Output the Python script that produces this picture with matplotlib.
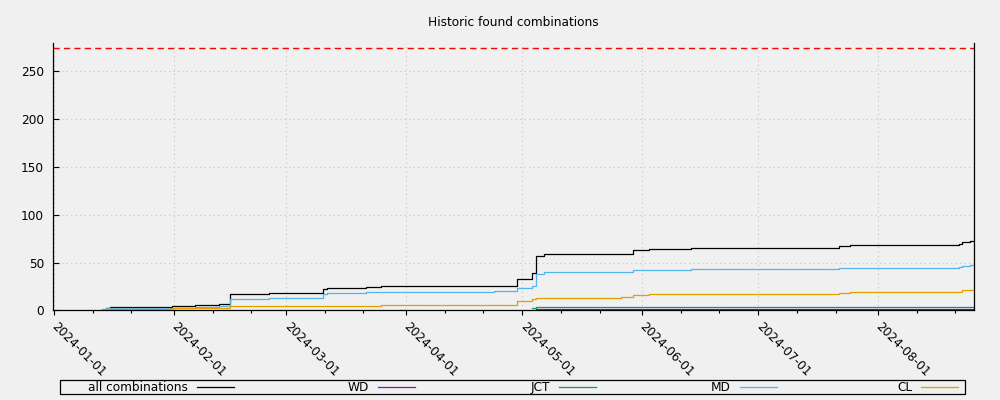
import pandas as pd
import matplotlib
matplotlib.use("Agg")
import matplotlib.pyplot as plt
import matplotlib.dates as mdates
from matplotlib.patches import Rectangle

# --------- data ---------
all_dates = ["2024-01-14 10:00", "2024-01-15 12:00", "2024-01-31 12:00", "2024-02-06 10:00",
             "2024-02-12 14:00", "2024-02-15 12:00", "2024-02-25 14:00", "2024-03-10 14:00",
             "2024-03-11 14:00", "2024-03-21 17:00", "2024-03-25 14:00", "2024-04-23 19:00",
             "2024-04-29 17:00", "2024-05-03 14:00", "2024-05-04 17:00", "2024-05-06 17:00",
             "2024-05-29 17:00", "2024-06-02 22:00", "2024-06-13 14:00", "2024-07-21 19:00",
             "2024-07-24 19:00", "2024-08-22 00:00", "2024-08-22 19:00", "2024-08-24 19:00",
             "2024-08-25 19:00"]
all_vals = [3, 4, 5, 6, 7, 17, 18, 22, 23, 24, 25, 26, 33, 39, 57, 59, 63, 64, 65, 67, 68, 69, 72, 73, 73]

wd_dates = ["2024-05-04 17:00", "2024-08-25 19:00"]
wd_vals = [1, 1]

jct_dates = ["2024-05-03 14:00", "2024-05-04 17:00", "2024-08-25 19:00"]
jct_vals = [2, 4, 4]

md_dates = ["2024-01-13 07:00", "2024-01-14 10:00", "2024-01-15 12:00", "2024-02-06 10:00",
            "2024-02-12 14:00", "2024-02-15 12:00", "2024-02-25 14:00", "2024-03-10 14:00",
            "2024-03-11 14:00", "2024-03-21 17:00", "2024-04-23 19:00", "2024-04-29 17:00",
            "2024-05-03 14:00", "2024-05-04 17:00", "2024-05-06 17:00", "2024-05-29 17:00",
            "2024-06-13 14:00", "2024-07-21 19:00", "2024-08-22 00:00", "2024-08-22 19:00",
            "2024-08-24 19:00", "2024-08-25 19:00"]
md_vals = [1, 2, 3, 4, 5, 12, 13, 17, 18, 19, 20, 23, 26, 38, 40, 42, 43, 44, 45, 46, 47, 47]

cl_dates = ["2024-01-13 07:00", "2024-01-31 12:00", "2024-02-15 12:00", "2024-03-25 14:00",
            "2024-04-29 17:00", "2024-05-03 14:00", "2024-05-04 17:00", "2024-05-26 14:00",
            "2024-05-29 17:00", "2024-06-02 22:00", "2024-07-21 19:00", "2024-07-24 19:00",
            "2024-08-22 19:00", "2024-08-25 19:00"]
cl_vals = [1, 2, 5, 6, 10, 12, 13, 14, 16, 17, 18, 19, 21, 21]

limit_val = 274

series = [
    ("all combinations", all_dates, all_vals, "#000000"),
    ("WD", wd_dates, wd_vals, "#9400d3"),
    ("JCT", jct_dates, jct_vals, "#009e73"),
    ("MD", md_dates, md_vals, "#56b4e9"),
    ("CL", cl_dates, cl_vals, "#e69f00"),
]

FS = 8.7
BG = "#f0f0f0"

fig = plt.figure(figsize=(10, 4), dpi=100, facecolor=BG)
ax = fig.add_axes([0.053, 0.224, 0.921, 0.6685], facecolor=BG)

lines = []
for label, d, v, c in series:
    ln, = ax.step(pd.to_datetime(d), v, where="post", color=c, lw=0.9, label=label)
    lines.append(ln)

ax.axhline(limit_val, color="red", lw=1.0, linestyle=(0, (4.5, 3)))

ax.set_xlim(pd.Timestamp("2023-12-31 18:00"), pd.Timestamp("2024-08-25 19:00"))
ax.set_ylim(0, 279.5)

ax.xaxis.set_major_locator(mdates.MonthLocator())
ax.xaxis.set_minor_locator(mdates.DayLocator(bymonthday=[11, 21]))
ax.xaxis.set_major_formatter(mdates.DateFormatter("%Y-%m-%d"))
ax.set_yticks(range(0, 251, 50))

ax.tick_params(axis="y", direction="in", length=4, width=0.8, pad=6.5, labelsize=FS)
ax.tick_params(axis="x", which="major", direction="out", length=3.5, width=0.8, pad=6.5, labelsize=FS)
ax.tick_params(axis="x", which="minor", direction="out", length=1.8, width=0.8)
for lab in ax.get_xticklabels():
    lab.set_rotation(-45)
    lab.set_ha("left")
    lab.set_va("center")
    lab.set_rotation_mode("anchor")

ax.grid(True, which="major", color="#c4c4c4", lw=0.8, linestyle=(0, (1, 3)))
ax.spines["top"].set_visible(False)
for s in ["left", "bottom", "right"]:
    ax.spines[s].set_linewidth(0.9)

fig.text(0.5135, 0.945, "Historic found combinations", ha="center", va="center", fontsize=FS)

# gnuplot-like key: one box, equal columns, text right-justified then the sample
y_key = 1 - 387.5 / 400
for i, ln in enumerate(lines):
    x_right = (233.5 + i * 181) / 1000
    fig.legend([ln], [ln.get_label()], loc="center right", bbox_to_anchor=(x_right, y_key),
               bbox_transform=fig.transFigure, frameon=False, markerfirst=False,
               handlelength=3.06, handletextpad=0.7, borderpad=0, borderaxespad=0,
               fontsize=FS)
fig.add_artist(Rectangle((0.060, 1 - 394 / 400), 0.905, 14 / 400, transform=fig.transFigure,
                         fill=False, edgecolor="black", lw=0.9))

fig.savefig("out.png", dpi=100, facecolor=BG)
